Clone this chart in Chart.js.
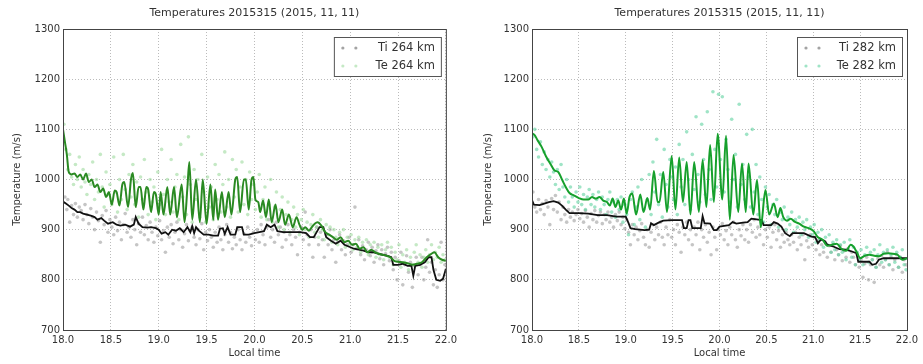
<!DOCTYPE html>
<html>
<head>
<meta charset="utf-8">
<script src="https://cdn.jsdelivr.net/npm/chart.js@4/dist/chart.umd.min.js"></script>
<style>
  body { margin: 0; background: #fff; }
  #wrap { position: relative; width: 923px; height: 364px; }
  canvas { position: absolute; top: 0; }
</style>
</head>
<body>
<div id="wrap">
  <canvas id="graficoEsq" width="461" height="364" style="left:0"></canvas>
  <canvas id="graficoDir" width="462" height="364" style="left:461px"></canvas>
</div>
<script>
const tituloGrafico = 'Temperatures 2015315 (2015, 11, 11)';
const rotulosEsq = ['Ti 264 km', 'Te 264 km'];
const rotulosDir = ['Ti 282 km', 'Te 282 km'];
const ticksX = [18.0, 18.5, 19.0, 19.5, 20.0, 20.5, 21.0, 21.5, 22.0];
const ticksY = [700, 800, 900, 1000, 1100, 1200, 1300];

// linhas - painel esquerdo (264 km)
const linhaTeEsq = [[18.00,1100],[18.02,1075],[18.04,1050],[18.06,1015],[18.09,1010],[18.12,1012],[18.15,1005],[18.18,1010],[18.21,1000],[18.24,1012],[18.27,995],[18.30,1000],[18.33,985],[18.36,990],[18.39,975],[18.42,982],[18.45,965],[18.48,975],[18.51,950],[18.54,978],[18.56,975],[18.59,948],[18.62,990],[18.64,995],[18.68,945],[18.71,1000],[18.73,1013],[18.76,945],[18.79,985],[18.81,985],[18.84,940],[18.87,985],[18.89,980],[18.92,935],[18.95,975],[18.97,970],[19.00,930],[19.02,975],[19.05,930],[19.09,985],[19.12,930],[19.16,985],[19.19,925],[19.24,990],[19.27,915],[19.30,985],[19.32,1035],[19.35,920],[19.39,1000],[19.43,915],[19.46,1000],[19.50,912],[19.54,990],[19.57,920],[19.59,980],[19.62,920],[19.66,975],[19.69,925],[19.73,975],[19.76,930],[19.80,1000],[19.82,1005],[19.85,935],[19.89,1000],[19.91,1000],[19.94,940],[19.97,1000],[19.99,1005],[20.01,960],[20.04,955],[20.06,935],[20.09,958],[20.12,925],[20.15,960],[20.18,915],[20.22,950],[20.25,915],[20.29,940],[20.32,910],[20.36,930],[20.40,905],[20.44,925],[20.47,910],[20.50,900],[20.53,905],[20.57,898],[20.60,905],[20.63,912],[20.66,915],[20.70,908],[20.74,895],[20.78,890],[20.82,885],[20.86,880],[20.90,885],[20.94,875],[20.98,878],[21.02,870],[21.06,872],[21.10,862],[21.14,865],[21.18,855],[21.22,860],[21.26,855],[21.30,852],[21.34,850],[21.38,848],[21.42,845],[21.46,838],[21.50,836],[21.55,835],[21.60,833],[21.65,830],[21.70,832],[21.75,835],[21.80,845],[21.85,852],[21.88,855],[21.92,845],[21.96,840],[22.00,838]];
const linhaTiEsq = [[18.00,956],[18.03,952],[18.06,948],[18.09,943],[18.12,940],[18.15,935],[18.18,935],[18.21,932],[18.25,930],[18.29,928],[18.33,925],[18.36,920],[18.40,923],[18.43,918],[18.47,912],[18.52,915],[18.56,910],[18.60,908],[18.65,910],[18.70,906],[18.74,910],[18.76,925],[18.79,912],[18.83,905],[18.88,904],[18.92,905],[18.97,903],[19.00,900],[19.03,892],[19.07,895],[19.10,890],[19.14,900],[19.18,898],[19.22,903],[19.26,895],[19.30,905],[19.33,895],[19.35,907],[19.37,893],[19.39,905],[19.42,898],[19.47,890],[19.52,890],[19.57,888],[19.62,888],[19.64,902],[19.67,903],[19.69,892],[19.72,905],[19.75,890],[19.80,890],[19.82,905],[19.87,905],[19.89,890],[19.94,890],[20.00,893],[20.05,895],[20.10,897],[20.13,910],[20.17,905],[20.21,910],[20.24,897],[20.30,895],[20.36,895],[20.42,895],[20.48,895],[20.54,893],[20.58,885],[20.62,885],[20.65,895],[20.68,905],[20.72,905],[20.75,885],[20.80,878],[20.85,872],[20.90,878],[20.94,870],[20.99,866],[21.04,862],[21.09,860],[21.14,858],[21.19,855],[21.24,855],[21.29,852],[21.34,850],[21.39,848],[21.43,845],[21.45,830],[21.50,830],[21.55,832],[21.60,828],[21.64,828],[21.66,808],[21.68,828],[21.73,830],[21.78,835],[21.82,845],[21.85,845],[21.87,820],[21.90,800],[21.94,798],[21.97,802],[21.99,815],[22.00,822]];

// pontos medidos - painel esquerdo
const pontosTiEsq = [[18.02,965],[18.04,940],[18.05,960],[18.07,915],[18.09,948],[18.11,930],[18.13,952],[18.15,925],[18.17,945],[18.19,938],[18.21,920],[18.23,950],[18.25,930],[18.27,912],[18.29,942],[18.31,925],[18.33,900],[18.35,935],[18.37,918],[18.39,875],[18.41,928],[18.43,910],[18.45,938],[18.47,895],[18.49,920],[18.51,905],[18.53,890],[18.55,925],[18.57,898],[18.59,915],[18.61,880],[18.63,910],[18.65,932],[18.67,895],[18.69,905],[18.71,885],[18.73,920],[18.75,900],[18.77,870],[18.79,912],[18.81,895],[18.83,925],[18.85,890],[18.87,908],[18.89,880],[18.91,915],[18.93,895],[18.95,875],[18.97,905],[18.99,888],[19.01,918],[19.03,880],[19.05,898],[19.07,855],[19.09,905],[19.11,885],[19.13,910],[19.15,872],[19.17,895],[19.19,915],[19.21,880],[19.23,900],[19.25,865],[19.27,892],[19.29,910],[19.31,878],[19.33,898],[19.35,905],[19.37,885],[19.39,870],[19.41,900],[19.43,882],[19.45,912],[19.47,860],[19.49,895],[19.51,878],[19.53,900],[19.55,885],[19.57,865],[19.59,895],[19.61,875],[19.63,905],[19.65,880],[19.67,860],[19.69,890],[19.71,910],[19.73,875],[19.75,895],[19.77,862],[19.79,885],[19.81,870],[19.83,900],[19.85,880],[19.87,860],[19.89,892],[19.91,875],[19.93,905],[19.95,885],[19.97,868],[19.99,895],[20.01,880],[20.03,900],[20.05,875],[20.07,910],[20.09,890],[20.11,870],[20.13,905],[20.15,920],[20.17,885],[20.19,900],[20.21,875],[20.23,915],[20.25,890],[20.27,905],[20.29,865],[20.31,895],[20.33,880],[20.35,910],[20.37,890],[20.39,870],[20.41,900],[20.43,885],[20.45,850],[20.47,895],[20.49,905],[20.51,880],[20.53,935],[20.55,890],[20.57,870],[20.59,900],[20.61,845],[20.63,885],[20.65,905],[20.67,870],[20.69,895],[20.71,880],[20.73,845],[20.75,890],[20.77,870],[20.79,900],[20.81,860],[20.83,880],[20.85,835],[20.87,875],[20.89,890],[20.91,860],[20.93,878],[20.95,850],[20.97,870],[20.99,885],[21.01,855],[21.03,870],[21.05,945],[21.07,862],[21.09,880],[21.11,850],[21.13,868],[21.15,840],[21.17,860],[21.19,875],[21.21,848],[21.23,865],[21.25,835],[21.27,858],[21.29,870],[21.31,842],[21.33,860],[21.35,830],[21.37,852],[21.39,865],[21.41,838],[21.43,855],[21.45,820],[21.47,845],[21.49,800],[21.51,838],[21.53,855],[21.55,790],[21.57,830],[21.59,848],[21.61,815],[21.63,835],[21.65,785],[21.67,828],[21.69,845],[21.71,810],[21.73,830],[21.75,845],[21.77,800],[21.79,825],[21.81,880],[21.83,815],[21.85,835],[21.87,790],[21.89,820],[21.91,785],[21.93,810],[21.95,875],[21.97,800],[21.99,830]];
const pontosTeEsq = [[18.01,1110],[18.03,1060],[18.05,1020],[18.07,1050],[18.09,1005],[18.11,990],[18.13,1030],[18.15,1000],[18.17,1045],[18.19,985],[18.21,1020],[18.23,995],[18.25,970],[18.27,1010],[18.29,990],[18.31,1035],[18.33,960],[18.35,1000],[18.37,975],[18.39,1050],[18.41,985],[18.43,945],[18.45,1015],[18.47,970],[18.49,990],[18.51,950],[18.53,1045],[18.55,975],[18.57,935],[18.59,1000],[18.61,960],[18.63,1050],[18.65,980],[18.67,940],[18.69,1010],[18.71,965],[18.73,1030],[18.75,950],[18.77,995],[18.79,925],[18.81,1005],[18.83,960],[18.85,1040],[18.87,975],[18.89,930],[18.91,1000],[18.93,955],[18.95,985],[18.97,920],[18.99,1015],[19.01,950],[19.03,1060],[19.05,970],[19.07,930],[19.09,1000],[19.11,955],[19.13,1040],[19.15,935],[19.17,985],[19.19,1010],[19.21,920],[19.23,1070],[19.25,965],[19.27,1005],[19.29,930],[19.31,1085],[19.33,990],[19.35,915],[19.37,1020],[19.39,960],[19.41,1000],[19.43,925],[19.45,1050],[19.47,975],[19.49,915],[19.51,1005],[19.53,945],[19.55,985],[19.57,920],[19.59,1030],[19.61,960],[19.63,1010],[19.65,935],[19.67,990],[19.69,1055],[19.71,945],[19.73,1000],[19.75,925],[19.77,1040],[19.79,965],[19.81,1020],[19.83,935],[19.85,985],[19.87,1035],[19.89,950],[19.91,1000],[19.93,930],[19.95,1015],[19.97,960],[19.99,990],[20.01,940],[20.03,975],[20.05,1010],[20.07,925],[20.09,960],[20.11,985],[20.13,920],[20.15,950],[20.17,1000],[20.19,915],[20.21,945],[20.23,975],[20.25,905],[20.27,940],[20.29,965],[20.31,900],[20.33,930],[20.35,955],[20.37,895],[20.39,920],[20.41,945],[20.43,905],[20.45,930],[20.47,890],[20.49,920],[20.51,940],[20.53,900],[20.55,915],[20.57,885],[20.59,910],[20.61,930],[20.63,895],[20.65,905],[20.67,885],[20.69,920],[20.71,900],[20.73,880],[20.75,910],[20.77,890],[20.79,905],[20.81,875],[20.83,900],[20.85,885],[20.87,870],[20.89,895],[20.91,880],[20.93,900],[20.95,865],[20.97,885],[20.99,870],[21.01,890],[21.03,860],[21.05,880],[21.07,865],[21.09,885],[21.11,855],[21.13,875],[21.15,860],[21.17,880],[21.19,850],[21.21,870],[21.23,855],[21.25,875],[21.27,845],[21.29,865],[21.31,850],[21.33,870],[21.35,840],[21.37,860],[21.39,875],[21.41,845],[21.43,865],[21.45,830],[21.47,855],[21.49,840],[21.51,870],[21.53,825],[21.55,850],[21.57,835],[21.59,860],[21.61,820],[21.63,845],[21.65,830],[21.67,855],[21.69,870],[21.71,835],[21.73,850],[21.75,825],[21.77,845],[21.79,860],[21.81,835],[21.83,850],[21.85,870],[21.87,840],[21.89,855],[21.91,845],[21.93,865],[21.95,835],[21.97,850],[21.99,840]];

// linhas - painel direito (282 km)
const linhaTeDir = [[18.00,1092],[18.03,1088],[18.06,1078],[18.10,1066],[18.15,1046],[18.20,1030],[18.24,1018],[18.28,1015],[18.32,1000],[18.36,985],[18.40,973],[18.45,968],[18.50,963],[18.55,960],[18.60,960],[18.64,965],[18.68,962],[18.72,965],[18.76,958],[18.80,955],[18.83,948],[18.86,962],[18.89,945],[18.92,958],[18.95,940],[18.98,962],[19.01,932],[19.04,965],[19.07,972],[19.11,930],[19.155,970],[19.19,935],[19.23,963],[19.26,940],[19.30,1017],[19.34,955],[19.36,955],[19.40,1015],[19.44,935],[19.49,1047],[19.53,940],[19.57,1044],[19.61,955],[19.65,1035],[19.69,930],[19.73,1035],[19.78,935],[19.82,1039],[19.86,945],[19.90,1069],[19.94,955],[19.98,1091],[20.03,960],[20.07,1087],[20.11,920],[20.15,1049],[20.20,935],[20.24,1032],[20.28,935],[20.31,1032],[20.36,930],[20.40,999],[20.44,905],[20.49,979],[20.53,930],[20.58,952],[20.62,925],[20.65,943],[20.68,925],[20.72,918],[20.76,922],[20.80,916],[20.85,912],[20.90,906],[20.95,903],[21.00,898],[21.05,885],[21.10,880],[21.15,868],[21.20,870],[21.25,872],[21.30,862],[21.35,858],[21.40,870],[21.43,866],[21.47,853],[21.50,843],[21.55,848],[21.60,850],[21.65,848],[21.70,847],[21.75,852],[21.80,853],[21.85,852],[21.90,850],[21.95,840],[22.00,843]];
const linhaTiDir = [[18.00,959],[18.02,950],[18.08,949],[18.13,952],[18.18,955],[18.23,957],[18.28,954],[18.32,948],[18.36,940],[18.40,933],[18.50,933],[18.60,932],[18.70,929],[18.80,929],[18.90,926],[19.00,926],[19.03,913],[19.05,903],[19.10,901],[19.20,899],[19.25,900],[19.27,913],[19.30,909],[19.35,914],[19.40,918],[19.50,919],[19.60,919],[19.62,903],[19.65,903],[19.67,919],[19.69,919],[19.71,903],[19.80,903],[19.82,927],[19.84,913],[19.90,912],[19.94,899],[19.97,899],[20.00,906],[20.10,909],[20.14,915],[20.18,912],[20.25,914],[20.30,915],[20.34,922],[20.45,919],[20.47,909],[20.55,909],[20.58,915],[20.62,912],[20.66,906],[20.70,893],[20.75,887],[20.78,893],[20.90,893],[20.98,886],[21.02,885],[21.05,873],[21.08,880],[21.12,878],[21.15,870],[21.22,866],[21.28,861],[21.35,860],[21.42,856],[21.46,853],[21.48,836],[21.55,836],[21.60,836],[21.63,830],[21.67,832],[21.70,840],[21.75,843],[21.85,843],[21.95,843],[22.00,843]];

// pontos medidos - painel direito
const pontosTiDir = [[18.01,975],[18.03,945],[18.05,935],[18.07,960],[18.09,940],[18.11,952],[18.13,930],[18.15,958],[18.17,945],[18.19,910],[18.21,962],[18.23,940],[18.25,968],[18.27,935],[18.29,955],[18.31,920],[18.33,945],[18.35,930],[18.37,915],[18.39,940],[18.41,925],[18.43,935],[18.45,918],[18.47,930],[18.49,940],[18.51,922],[18.53,932],[18.55,915],[18.57,938],[18.59,925],[18.61,905],[18.63,932],[18.65,920],[18.67,938],[18.69,915],[18.71,928],[18.73,935],[18.75,912],[18.77,930],[18.79,920],[18.81,935],[18.83,915],[18.85,925],[18.87,905],[18.89,930],[18.91,918],[18.93,935],[18.95,910],[18.97,925],[18.99,902],[19.01,920],[19.03,895],[19.05,870],[19.07,910],[19.09,890],[19.11,905],[19.13,880],[19.15,898],[19.17,912],[19.19,885],[19.21,870],[19.23,900],[19.25,865],[19.27,895],[19.29,910],[19.31,880],[19.33,905],[19.35,890],[19.37,915],[19.39,885],[19.41,870],[19.43,905],[19.45,890],[19.47,920],[19.49,885],[19.51,900],[19.53,870],[19.55,910],[19.57,895],[19.59,855],[19.61,905],[19.63,890],[19.65,915],[19.67,880],[19.69,900],[19.71,870],[19.73,905],[19.75,890],[19.77,915],[19.79,860],[19.81,900],[19.83,885],[19.85,910],[19.87,875],[19.89,895],[19.91,850],[19.93,905],[19.95,885],[19.97,860],[19.99,900],[20.01,890],[20.03,912],[20.05,880],[20.07,898],[20.09,870],[20.11,905],[20.13,890],[20.15,915],[20.17,880],[20.19,865],[20.21,900],[20.23,888],[20.25,910],[20.27,880],[20.29,900],[20.31,875],[20.33,910],[20.35,895],[20.37,920],[20.39,885],[20.41,905],[20.43,890],[20.45,915],[20.47,870],[20.49,900],[20.51,885],[20.53,905],[20.55,865],[20.57,895],[20.59,910],[20.61,880],[20.63,898],[20.65,865],[20.67,890],[20.69,875],[20.71,895],[20.73,880],[20.75,870],[20.77,890],[20.79,875],[20.81,895],[20.83,860],[20.85,885],[20.87,870],[20.89,890],[20.91,840],[20.93,878],[20.95,865],[20.97,890],[20.99,870],[21.01,885],[21.03,860],[21.05,878],[21.07,850],[21.09,870],[21.11,855],[21.13,875],[21.15,845],[21.17,868],[21.19,855],[21.21,870],[21.23,840],[21.25,860],[21.27,850],[21.29,868],[21.31,838],[21.33,858],[21.35,845],[21.37,862],[21.39,835],[21.41,855],[21.43,845],[21.45,830],[21.47,850],[21.49,825],[21.51,840],[21.53,805],[21.55,832],[21.57,845],[21.59,800],[21.61,830],[21.63,840],[21.65,795],[21.67,825],[21.69,842],[21.71,830],[21.73,848],[21.75,825],[21.77,840],[21.79,855],[21.81,830],[21.83,845],[21.85,820],[21.87,840],[21.89,850],[21.91,825],[21.93,845],[21.95,815],[21.97,840],[21.99,830]];
const pontosTeDir = [[18.01,1085],[18.03,1100],[18.05,1060],[18.07,1045],[18.09,1075],[18.11,1030],[18.13,1055],[18.15,1020],[18.17,1040],[18.19,1005],[18.21,1035],[18.23,1015],[18.25,990],[18.27,1020],[18.29,980],[18.31,1030],[18.33,985],[18.35,965],[18.37,1000],[18.39,955],[18.41,985],[18.43,965],[18.45,945],[18.47,975],[18.49,955],[18.51,985],[18.53,950],[18.55,970],[18.57,940],[18.59,965],[18.61,980],[18.63,950],[18.65,970],[18.67,945],[18.69,960],[18.71,975],[18.73,940],[18.75,965],[18.77,950],[18.79,930],[18.81,960],[18.83,975],[18.85,935],[18.87,955],[18.89,925],[18.91,960],[18.93,940],[18.95,965],[18.97,915],[18.99,950],[19.01,930],[19.03,890],[19.05,960],[19.07,975],[19.09,910],[19.11,945],[19.13,985],[19.15,920],[19.17,1000],[19.19,940],[19.21,905],[19.23,960],[19.25,1010],[19.27,930],[19.29,1035],[19.31,975],[19.33,1080],[19.35,950],[19.37,1010],[19.39,925],[19.41,1060],[19.43,990],[19.45,945],[19.47,1040],[19.49,1005],[19.51,960],[19.53,1025],[19.55,930],[19.57,1070],[19.59,985],[19.61,1040],[19.63,950],[19.65,1095],[19.67,1000],[19.69,940],[19.71,1050],[19.73,980],[19.75,1125],[19.77,1010],[19.79,955],[19.81,1110],[19.83,1040],[19.85,970],[19.87,1135],[19.89,1020],[19.91,960],[19.93,1175],[19.95,1060],[19.97,985],[19.99,1170],[20.01,1040],[20.03,1165],[20.05,975],[20.07,1080],[20.09,1020],[20.11,955],[20.13,1120],[20.15,1000],[20.17,1050],[20.19,945],[20.21,1150],[20.23,990],[20.25,1030],[20.27,960],[20.29,1090],[20.31,1005],[20.33,945],[20.35,1100],[20.37,975],[20.39,1030],[20.41,930],[20.43,1005],[20.45,960],[20.47,915],[20.49,985],[20.51,945],[20.53,970],[20.55,910],[20.57,950],[20.59,930],[20.61,960],[20.63,905],[20.65,935],[20.67,920],[20.69,945],[20.71,900],[20.73,925],[20.75,910],[20.77,935],[20.79,895],[20.81,920],[20.83,905],[20.85,925],[20.87,890],[20.89,915],[20.91,900],[20.93,920],[20.95,885],[20.97,905],[20.99,890],[21.01,910],[21.03,875],[21.05,895],[21.07,880],[21.09,900],[21.11,865],[21.13,885],[21.15,870],[21.17,890],[21.19,855],[21.21,875],[21.23,860],[21.25,880],[21.27,850],[21.29,870],[21.31,855],[21.33,875],[21.35,840],[21.37,860],[21.39,880],[21.41,845],[21.43,865],[21.45,830],[21.47,855],[21.49,840],[21.51,860],[21.53,830],[21.55,850],[21.57,865],[21.59,835],[21.61,855],[21.63,840],[21.65,860],[21.67,825],[21.69,850],[21.71,870],[21.73,835],[21.75,855],[21.77,840],[21.79,860],[21.81,830],[21.83,850],[21.85,865],[21.87,835],[21.89,855],[21.91,825],[21.93,845],[21.95,860],[21.97,830],[21.99,820]];

const FONTE = 'DejaVu Sans';
const COR_TEXTO = '#333';

// moldura, titulo e legenda desenhados no estilo matplotlib
const pluginMoldura = {
    id: 'moldura',
    afterDraw(chart, args, opts) {
        const {ctx, chartArea: a} = chart;
        ctx.save();
        ctx.strokeStyle = '#444';
        ctx.lineWidth = 1;
        ctx.strokeRect(a.left + 0.5, a.top + 0.5, a.right - a.left, a.bottom - a.top);

        ctx.fillStyle = COR_TEXTO;
        ctx.font = `11px "${FONTE}"`;
        ctx.textAlign = 'center';
        ctx.textBaseline = 'middle';
        ctx.fillText(tituloGrafico, (a.left + a.right) / 2, 13);

        // legenda
        const lx = a.right - opts.larguraLegenda - 5, ly = a.top + 8;
        ctx.fillStyle = '#fff';
        ctx.fillRect(lx, ly, opts.larguraLegenda, 39);
        ctx.strokeStyle = '#555';
        ctx.strokeRect(lx + 0.5, ly + 0.5, opts.larguraLegenda, 39);
        opts.itens.forEach((it, i) => {
            const yy = ly + 11 + i * 18;
            ctx.fillStyle = it.cor;
            [lx + 9, lx + 22].forEach(px => {
                ctx.beginPath();
                ctx.arc(px, yy, 1.6, 0, Math.PI * 2);
                ctx.fill();
            });
            ctx.fillStyle = COR_TEXTO;
            ctx.font = `11.5px "${FONTE}"`;
            ctx.textAlign = 'right';
            ctx.fillText(it.texto, lx + opts.larguraLegenda - 6, yy);
        });
        ctx.restore();
    }
};

function criarGrafico(canvaId, dados, opc) {
    const config = {
        type: 'scatter',
        data: {
            datasets: [
                {
                    label: opc.rotulos[1] + ' linha',
                    data: dados.linhaTe,
                    showLine: true,
                    borderColor: opc.corLinhaTe,
                    borderWidth: 2,
                    pointRadius: 0,
                    cubicInterpolationMode: 'monotone',
                    order: 0
                },
                {
                    label: opc.rotulos[0] + ' linha',
                    data: dados.linhaTi,
                    showLine: true,
                    borderColor: '#111',
                    borderWidth: 1.8,
                    pointRadius: 0,
                    order: 1
                },
                {
                    label: opc.rotulos[1],
                    data: dados.pontosTe,
                    pointRadius: 1.8,
                    pointBorderWidth: 0,
                    backgroundColor: opc.corPontoTe,
                    order: 2
                },
                {
                    label: opc.rotulos[0],
                    data: dados.pontosTi,
                    pointRadius: 1.8,
                    pointBorderWidth: 0,
                    backgroundColor: 'rgba(140, 140, 140, 0.5)',
                    order: 3
                }
            ]
        },
        options: {
            responsive: false,
            animation: false,
            devicePixelRatio: 1,
            layout: {
                padding: {top: 29, right: opc.padDireita, left: 0, bottom: 0}
            },
            plugins: {
                legend: {display: false},
                tooltip: {enabled: false},
                moldura: {
                    larguraLegenda: opc.larguraLegenda,
                    itens: [
                        {texto: opc.rotulos[0], cor: 'rgba(140,140,140,0.8)'},
                        {texto: opc.rotulos[1], cor: opc.corPontoTe}
                    ]
                }
            },
            scales: {
                x: {
                    type: 'linear',
                    min: 18,
                    max: 22,
                    afterBuildTicks: (s) => { s.ticks = ticksX.map(v => ({value: v})); },
                    afterFit: (s) => { s.height = 34; },
                    ticks: {
                        color: COR_TEXTO,
                        font: {family: FONTE, size: 10},
                        padding: 4,
                        maxRotation: 0,
                        callback: (v) => Number(v).toFixed(1)
                    },
                    grid: {
                        color: '#bbb',
                        drawTicks: false
                    },
                    border: {display: false, dash: [1, 2]},
                    title: {
                        display: true,
                        text: 'Local time',
                        color: COR_TEXTO,
                        font: {family: FONTE, size: 10},
                        padding: {top: 0, bottom: 5}
                    }
                },
                y: {
                    type: 'linear',
                    min: 700,
                    max: 1300,
                    afterBuildTicks: (s) => { s.ticks = ticksY.map(v => ({value: v})); },
                    afterFit: (s) => { s.width = opc.larguraY; },
                    ticks: {
                        color: COR_TEXTO,
                        font: {family: FONTE, size: 10},
                        padding: 3,
                        callback: (v) => String(v)
                    },
                    grid: {
                        color: '#bbb',
                        drawTicks: false
                    },
                    border: {display: false, dash: [1, 2]},
                    title: {
                        display: true,
                        text: 'Temperature (m/s)',
                        color: COR_TEXTO,
                        font: {family: FONTE, size: 10},
                        padding: {top: opc.padTituloY, bottom: 0}
                    }
                }
            }
        },
        plugins: [pluginMoldura]
    };
    return new Chart(document.getElementById(canvaId), config);
}

criarGrafico('graficoEsq',
    {linhaTe: linhaTeEsq, linhaTi: linhaTiEsq, pontosTe: pontosTeEsq, pontosTi: pontosTiEsq},
    {rotulos: rotulosEsq, corLinhaTe: '#2a8a22', corPontoTe: 'rgba(150, 215, 150, 0.55)',
     padDireita: 13, larguraY: 63, padTituloY: 11, larguraLegenda: 107});

criarGrafico('graficoDir',
    {linhaTe: linhaTeDir, linhaTi: linhaTiDir, pontosTe: pontosTeDir, pontosTi: pontosTiDir},
    {rotulos: rotulosDir, corLinhaTe: '#16a02c', corPontoTe: 'rgba(95, 210, 160, 0.6)',
     padDireita: 16, larguraY: 71, padTituloY: 21, larguraLegenda: 105});
</script>
</body>
</html>
